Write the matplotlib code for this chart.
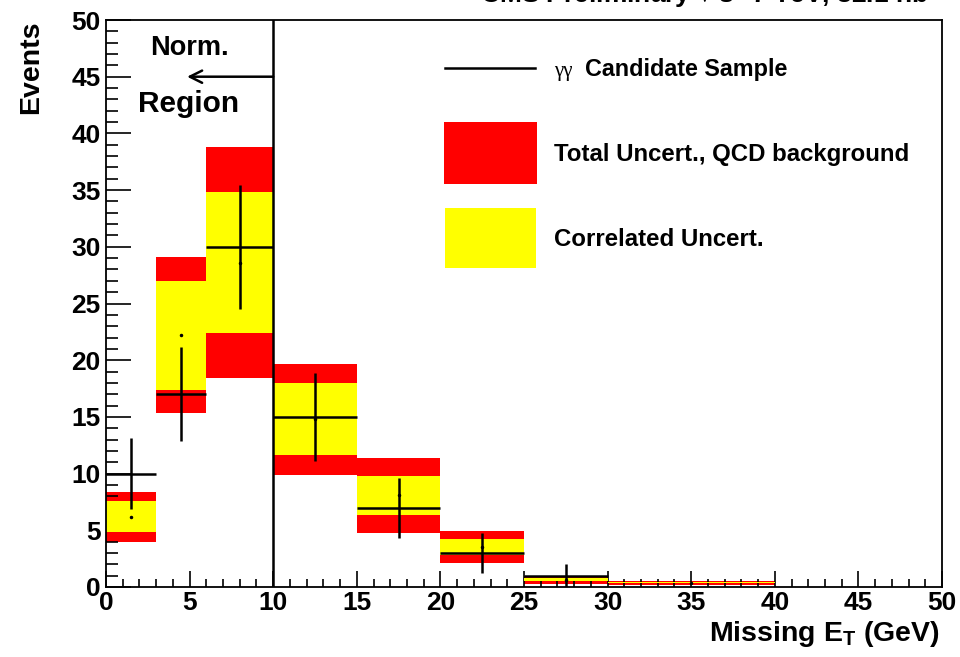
import numpy as np
import matplotlib
matplotlib.use("Agg")
import matplotlib.pyplot as plt
from matplotlib.patches import Rectangle
from matplotlib.lines import Line2D
from matplotlib.ticker import MultipleLocator

plt.rcParams['font.family'] = ['Liberation Sans', 'DejaVu Sans']
plt.rcParams['font.weight'] = 'bold'
plt.rcParams['mathtext.fontset'] = 'custom'
plt.rcParams['mathtext.rm'] = 'Liberation Sans:bold'
plt.rcParams['mathtext.bf'] = 'Liberation Sans:bold'
plt.rcParams['mathtext.it'] = 'Liberation Sans:bold'

# MET binning
bin_edges = [0, 3, 6, 10, 15, 20, 25, 30, 40]

# QCD background prediction with its uncertainty bands
qcd_bkg = [6.2, 22.2, 28.6, 14.8, 8.1, 3.5, 0.62, 0.37]
qcd_total_unc = [2.2, 6.9, 10.2, 4.9, 3.3, 1.4, 0.36, 0.18]
qcd_corr_unc = [1.35, 4.8, 6.2, 3.2, 1.72, 0.72, 0.13, 0.05]

# gamma-gamma candidate events (first 7 bins)
cand_events = [10, 17, 30, 15, 7, 3, 1]
cand_err = [3.16, 4.12, 5.48, 3.87, 2.65, 1.73, 1.0]

edges = np.array(bin_edges, dtype=float)
widths = np.diff(edges)
centers = edges[:-1] + widths / 2
bkg = np.array(qcd_bkg)
tot = np.array(qcd_total_unc)
corr = np.array(qcd_corr_unc)

fig = plt.figure(figsize=(9.6, 6.57), dpi=100)
W, H = 960.0, 657.0
ax = fig.add_axes([106 / W, 1 - 587 / H, (942 - 106) / W, (587 - 20) / H])

# uncertainty bands
ax.bar(edges[:-1], 2 * tot, bottom=bkg - tot, width=widths, align='edge',
       color='#ff0000', linewidth=0, zorder=1)
ax.bar(edges[:-1], 2 * corr, bottom=bkg - corr, width=widths, align='edge',
       color='#ffff00', linewidth=0, zorder=2)
ax.plot(centers, bkg, 'o', color='k', markersize=1.5, zorder=3)

# candidate sample
n = len(cand_events)
ax.errorbar(centers[:n], cand_events, xerr=widths[:n] / 2, yerr=cand_err,
            fmt='none', ecolor='black', elinewidth=1.8, capsize=0, zorder=4)

# normalisation region marker
ax.plot([10, 10], [0, 50], color='black', lw=1.8, zorder=5)
ax.annotate('', xy=(4.85, 45), xytext=(10, 45),
            arrowprops=dict(arrowstyle='->', lw=1.8, color='black',
                            mutation_scale=22, shrinkA=0, shrinkB=0))
ax.text(5.0, 46.9, 'Norm.', ha='center', va='baseline', fontsize=19.5,
        fontweight='bold')
ax.text(4.95, 41.9, 'Region', ha='center', va='baseline', fontsize=21.5,
        fontweight='bold')

ax.set_xlim(0, 50)
ax.set_ylim(0, 50)
ax.xaxis.set_major_locator(MultipleLocator(5))
ax.xaxis.set_minor_locator(MultipleLocator(1))
ax.yaxis.set_major_locator(MultipleLocator(5))
ax.yaxis.set_minor_locator(MultipleLocator(1))
ax.tick_params(axis='x', which='major', direction='in', length=11.5, width=1.2,
               labelsize=19, pad=3)
ax.tick_params(axis='x', which='minor', direction='in', length=5.8, width=1.2)
ax.tick_params(axis='y', which='major', direction='in', length=18, width=1.2,
               labelsize=19, pad=4)
ax.tick_params(axis='y', which='minor', direction='in', length=8.6, width=1.2)
for lab in ax.get_xticklabels() + ax.get_yticklabels():
    lab.set_fontweight('bold')
for sp in ax.spines.values():
    sp.set_linewidth(1.3)

# legend
def fx(px):
    return px / W

def fy(py):
    return 1 - py / H

fig.add_artist(Line2D([fx(445), fx(535)], [fy(68), fy(68)], color='black',
                      lw=1.8))
fig.add_artist(Rectangle((fx(444), fy(184)), fx(537) - fx(444),
                         fy(122) - fy(184), color='#ff0000', lw=0))
fig.add_artist(Rectangle((fx(445), fy(268)), fx(536) - fx(445),
                         fy(208) - fy(268), color='#ffff00', lw=0))
fig.text(fx(554), fy(75.7), 'γγ', family=['Liberation Serif', 'DejaVu Serif'],
         fontweight='normal', fontsize=15, ha='left', va='baseline')
fig.text(fx(585), fy(75.7), 'Candidate Sample', fontsize=16.8, ha='left',
         va='baseline', fontweight='bold')
fig.text(fx(554), fy(160.7), 'Total Uncert., QCD background', fontsize=17.3,
         ha='left', va='baseline', fontweight='bold')
fig.text(fx(554), fy(246), 'Correlated Uncert.', fontsize=17.3, ha='left',
         va='baseline', fontweight='bold')

# axis titles
fig.text(fx(31), fy(20), 'Events', rotation=90, ha='center', va='top',
         fontsize=20.5, fontweight='bold')
fig.text(fx(940), fy(641), r'Missing E$_{\mathrm{T}}$ (GeV)', ha='right',
         va='baseline', fontsize=20.5, fontweight='bold')

# header, partly outside the canvas
fig.text(fx(950), fy(4), r'CMS Preliminary $\sqrt{s}$=7 TeV, 32.1 nb$^{-1}$',
         ha='right', va='baseline', fontsize=19, fontweight='bold')

fig.savefig('out.png', dpi=100)
